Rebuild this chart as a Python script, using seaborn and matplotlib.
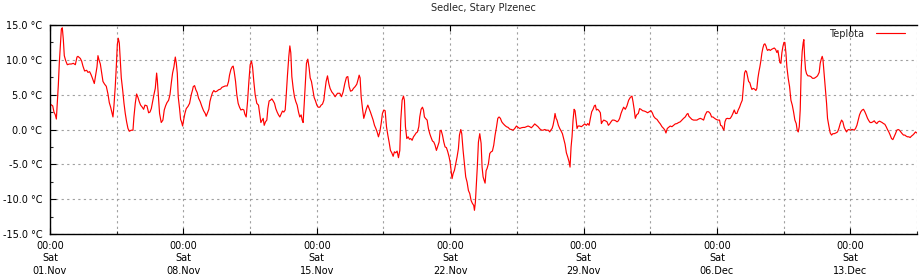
import numpy as np
import pandas as pd
import matplotlib
matplotlib.use("Agg")
import matplotlib.pyplot as plt
import matplotlib.dates as mdates
import seaborn as sns

# ---- data: hours since 01.Nov 00:00 and temperature (°C) ----
hours_w1 = [0.8, 3.4, 5.0, 6.7, 8.0, 9.2, 10.5, 11.7, 13.0, 14.3, 15.5, 16.8, 18.0, 19.7, 21.8, 24.3, 26.9,
            29.4, 31.9, 34.0, 35.2, 38.2, 39.9, 41.5, 43.6, 46.2, 47.8, 49.9, 51.6, 53.3, 55.8, 57.5, 59.2,
            60.4, 61.7, 63.4, 65.0, 66.7, 68.8, 70.9, 73.0, 74.7, 76.4, 78.0, 79.3, 80.6, 82.2, 83.5, 84.8,
            86.0, 87.3, 88.5, 89.8, 91.5, 93.2, 94.8, 96.5, 98.2, 99.9, 102.4, 104.5, 105.7, 107.4, 109.1,
            110.8, 112.4, 114.1, 116.2, 117.9, 119.6, 122.1, 124.2, 125.9, 127.6, 129.2, 130.9, 132.6, 134.3,
            135.1, 136.4, 138.0, 140.1, 142.2, 143.9, 145.6, 147.3, 149.4, 151.1, 152.7, 154.4, 156.1, 157.8,
            159.0, 160.3, 161.5, 163.2, 164.5, 165.7, 167.0, 168.3, 169.9, 171.6, 173.7, 175.8, 177.9, 179.6]
temp_w1 = [3.6, 3.4, 2.5, 2.1, 1.5, 3.75, 6.4, 9.5, 11.9, 14.4, 14.6, 12.9, 10.6, 9.9, 9.3, 9.4, 9.4,
           9.5, 9.3, 10.4, 10.5, 10.2, 9.8, 9.1, 8.4, 8.5, 8.2, 8.3, 7.9, 7.4, 6.6, 7.8, 9.0,
           10.6, 10.0, 9.4, 8.2, 6.9, 6.5, 6.2, 5.1, 3.85, 3.2, 2.4, 1.8, 3.5, 6.2, 9.0, 12.2,
           13.1, 12.4, 10.0, 7.4, 5.7, 3.75, 2.3, 1.1, 0.15, -0.25, -0.1, -0.1, 1.8, 3.75, 5.1,
           4.6, 4.0, 3.5, 3.2, 2.9, 3.5, 3.4, 2.4, 2.5, 3.0, 4.0, 5.0, 5.9, 8.1,
           7.2, 5.0, 2.3, 1.0, 1.35, 2.8, 3.4, 3.85, 4.2, 5.0, 6.6, 8.1, 9.0, 10.4,
           9.6, 8.1, 4.7, 3.0, 1.45, 1.1, 0.5, 1.35, 2.3, 3.0, 3.3, 3.75, 5.0, 5.7]

hours_w2 = [180.4, 182.1, 183.7, 185.4, 187.1, 189.2, 191.3, 193.4, 195.5, 196.7, 198.4, 200.1, 201.4,
            203.0, 204.7, 206.4, 208.1, 210.2, 212.3, 214.8, 216.5, 218.6, 220.7, 223.2, 224.9, 226.1,
            227.8, 229.5, 230.7, 232.0, 233.7, 235.3, 237.0, 238.7, 240.4, 242.5, 244.2, 245.4, 247.1,
            248.8, 250.5, 252.1, 253.8, 255.1, 256.7, 258.4, 260.5, 262.6, 264.3, 265.6, 267.2, 268.5,
            269.8, 271.4, 273.1, 274.4, 276.0, 277.7, 279.4, 281.1, 282.8, 284.4, 286.1, 287.8, 289.5,
            291.1, 292.8, 294.5, 296.2, 297.4, 299.1, 300.8, 302.1, 303.3, 304.6, 306.3, 307.9, 309.6,
            311.3, 313.0, 314.6, 316.3, 317.6, 318.8, 320.1, 321.8, 323.0, 324.7, 326.4, 327.7, 329.3,
            331.0, 332.7, 334.4, 336.1, 337.7, 339.8, 341.5, 343.2, 344.9, 346.1, 347.8, 349.5, 351.2,
            352.8, 354.9, 357.0, 359.1]
temp_w2 = [6.15, 6.3, 5.7, 5.3, 4.5, 4.0, 3.3, 2.7, 2.3, 1.9, 2.4, 2.9, 4.0,
           4.7, 5.3, 5.6, 5.4, 5.5, 5.7, 5.8, 6.05, 6.15, 6.25, 6.25, 6.9, 7.8,
           8.6, 9.0, 9.1, 8.3, 6.9, 5.0, 3.75, 3.2, 2.8, 2.9, 2.8, 2.2, 1.8,
           4.0, 6.9, 9.3, 9.8, 9.0, 6.9, 5.0, 3.75, 3.5, 2.1, 1.0, 1.35, 1.6,
           0.6, 1.1, 1.35, 3.0, 4.1, 4.2, 4.4, 4.1, 3.75, 3.0, 2.5, 2.1, 1.8,
           2.2, 2.65, 2.5, 2.8, 4.7, 7.8, 10.5, 12.0, 11.0, 7.6, 5.9, 4.7, 4.0,
           3.5, 2.5, 1.8, 2.1, 1.35, 1.0, 3.5, 7.1, 9.5, 10.1, 8.8, 7.4, 6.9,
           5.7, 4.6, 4.1, 3.5, 3.2, 3.2, 3.5, 3.65, 4.2, 5.4, 6.9, 7.7, 6.6,
           5.9, 5.4, 5.1, 4.7]

hours_w3 = [362.1, 365.0, 367.1, 369.2, 371.3, 373.4, 375.1, 376.8, 378.5, 380.6, 382.2, 384.3, 386.4,
            388.1, 389.4, 390.6, 391.9, 393.6, 395.2, 396.9, 398.6, 400.3, 402.0, 403.6, 405.3, 407.0,
            408.7, 410.4, 412.0, 413.7, 415.4, 417.1, 418.7, 420.4, 422.1, 423.8, 425.5, 427.1, 428.8,
            430.5, 432.2, 433.8, 435.5, 437.2, 438.9, 440.6, 441.8, 443.5, 445.2, 446.4, 447.7, 449.4,
            451.1, 452.7, 454.4, 456.1, 457.8, 459.4, 461.1, 462.8, 464.5, 465.7, 467.4, 469.1, 470.4,
            471.6, 473.3, 475.0, 476.6, 478.3, 480.0, 481.7, 483.4, 485.0, 486.7, 488.4, 490.1, 491.3,
            492.6, 494.3, 496.0, 497.6, 499.3, 501.0, 502.7, 503.9, 505.2, 506.4, 507.7, 509.4, 511.1,
            512.7, 514.4, 515.7, 517.4, 518.6, 520.3, 522.0, 523.6, 525.3, 527.0, 528.7, 530.4, 532.0,
            533.7, 534.6, 535.8, 537.1, 538.3, 539.6, 541.3]
temp_w3 = [5.2, 5.2, 4.7, 5.4, 6.6, 7.5, 7.6, 6.15, 5.5, 5.6, 5.9, 6.15, 6.5,
           7.2, 7.8, 7.4, 4.7, 3.0, 1.6, 2.3, 3.0, 3.5, 3.0, 2.5, 1.9, 1.35,
           0.6, 0.15, -0.35, -1.05, -0.35, 0.85, 2.3, 2.8, 2.7, 0.4, -0.8, -1.8, -3.0,
           -3.35, -3.85, -3.2, -3.35, -3.1, -4.05, -3.0, 1.35, 4.2, 4.8, 4.2, 0.4, -1.3,
           -1.05, -1.4, -1.3, -1.55, -1.05, -0.8, -0.5, -0.35, 0.4, 1.8, 2.9, 3.2, 2.8,
           1.8, 1.55, 1.35, 0.15, -0.6, -1.15, -1.65, -1.8, -2.25, -3.0, -2.4, -1.8, -0.2,
           -0.1, -0.8, -1.8, -2.5, -2.6, -3.2, -3.95, -4.65, -5.85, -7.05, -6.35, -5.85, -4.9,
           -3.95, -2.75, -0.8, 0.0, -0.6, -3.0, -4.9, -6.8, -7.55, -8.75, -9.2, -10.2, -10.6,
           -10.9, -11.6, -10.4, -7.8, -5.15, -1.8, -0.6]

hours_w4 = [543.0, 544.2, 545.5, 546.8, 548.0, 549.3, 550.5, 552.2, 553.9, 555.6, 557.2, 558.9, 560.6,
            562.3, 564.0, 565.6, 567.3, 569.0, 570.7, 572.8, 574.9, 577.0, 579.1, 581.2, 583.3, 585.4,
            587.5, 589.6, 591.7, 593.8, 595.9, 597.9, 600.0, 602.1, 604.2, 606.3, 608.4, 610.5, 612.6,
            614.7, 616.8, 619.3, 621.0, 623.1, 625.2, 627.7, 629.4, 630.7, 632.4, 633.6, 634.9, 636.1,
            637.4, 638.6, 640.3, 642.0, 643.7, 645.4, 647.0, 648.7, 650.4, 652.1, 653.8, 655.0, 656.3,
            657.5, 658.8, 660.1, 661.3, 662.6, 663.8, 665.1, 667.2, 669.3, 671.4, 673.5, 675.6, 677.3,
            679.0, 680.6, 682.3, 684.0, 685.6, 686.9, 688.2, 689.8, 691.5, 693.2, 694.5, 695.7, 697.4,
            699.5, 701.6, 703.3, 704.9, 706.6, 708.3, 710.4, 712.5, 714.2, 715.9, 717.5, 719.2, 720.9]
temp_w4 = [-2.0, -5.4, -6.8, -7.3, -7.7, -5.9, -5.6, -4.9, -3.45, -3.2, -3.1, -2.25, -0.8,
           0.3, 1.6, 1.8, 1.6, 1.1, 0.85, 0.6, 0.4, 0.3, 0.05, 0.0, -0.1, 0.15,
           0.5, 0.3, 0.15, 0.25, 0.3, 0.3, 0.4, 0.5, 0.4, 0.25, 0.5, 0.8, 0.6,
           0.4, 0.1, -0.1, -0.1, 0.0, -0.1, -0.1, -0.35, -0.1, 0.15, 0.6, 1.35, 2.3,
           1.6, 1.35, 0.6, 0.15, -0.2, -0.6, -1.3, -2.1, -3.35, -3.95, -4.65, -5.4, -2.5,
           -1.05, 1.35, 2.9, 2.7, 1.45, 0.15, 0.5, 0.5, 0.4, 0.6, 0.8, 0.6, 0.85,
           0.6, 1.6, 2.55, 2.9, 3.4, 3.5, 2.8, 2.9, 2.7, 2.4, 0.85, 1.1, 1.35,
           1.25, 1.1, 0.6, 0.8, 1.1, 1.35, 1.35, 1.25, 1.1, 1.25, 1.6, 2.3, 2.8]

hours_w5 = [722.5, 724.6, 726.7, 728.8, 730.9, 733.0, 734.3, 735.9, 737.2, 738.9, 741.0, 742.6, 744.3,
            746.4, 748.5, 750.6, 752.7, 754.8, 756.9, 758.6, 760.3, 762.4, 764.5, 766.6, 768.7, 770.8,
            772.9, 774.5, 775.8, 777.5, 779.1, 781.2, 783.3, 785.4, 787.5, 789.6, 791.7, 793.8, 795.9,
            798.0, 800.1, 802.2, 803.5, 804.7, 806.4, 808.5, 810.6, 812.7, 814.8, 816.9, 819.0, 821.1,
            823.2, 825.3, 827.4, 829.5, 831.6, 833.3, 835.0, 837.1, 839.1, 841.2, 843.3, 844.6, 846.3,
            847.5, 848.8, 850.1, 851.7, 853.4, 855.1, 856.8, 858.5, 860.1, 861.8, 863.5, 865.2, 866.8,
            868.5, 870.2, 871.9, 873.6, 874.8, 876.1, 877.3, 878.6, 879.9, 881.5, 882.8, 884.1, 885.7,
            887.4, 889.1, 890.3, 891.6, 892.9, 894.1, 895.4, 896.6, 897.9, 899.2, 900.4, 901.7, 903.0]
temp_w5 = [3.2, 2.9, 3.4, 4.2, 4.6, 4.8, 4.0, 2.8, 1.6, 2.1, 2.3, 3.0, 2.9,
           2.7, 2.65, 2.55, 2.4, 2.55, 2.7, 2.4, 1.9, 1.6, 1.45, 1.1, 0.8, 0.4,
           0.15, -0.1, -0.5, 0.15, 0.3, 0.5, 0.4, 0.6, 0.8, 0.85, 1.0, 1.1, 1.35,
           1.6, 1.8, 2.2, 2.3, 1.9, 1.7, 1.45, 1.35, 1.35, 1.35, 1.5, 1.6, 1.5,
           1.35, 2.1, 2.55, 2.55, 2.3, 1.8, 1.8, 1.6, 1.45, 1.35, 1.35, 0.6, 0.5,
           0.15, -0.1, 1.1, 1.55, 1.6, 1.55, 1.6, 1.9, 2.3, 2.8, 2.3, 2.3, 2.8,
           3.2, 3.75, 4.2, 6.4, 8.1, 8.45, 8.3, 7.6, 6.9, 6.7, 6.15, 5.75, 5.9,
           5.8, 5.6, 5.9, 7.35, 8.3, 9.0, 9.9, 10.95, 11.7, 12.2, 12.3, 12.0, 11.5]

hours_w6 = [903.8, 905.5, 907.2, 908.8, 910.5, 912.2, 913.9, 915.5, 916.8, 918.1, 919.3, 920.6, 921.8,
            923.1, 924.4, 925.6, 926.9, 928.1, 929.8, 931.5, 933.2, 934.9, 936.5, 938.2, 939.9, 941.1,
            942.4, 943.7, 944.9, 946.2, 947.4, 948.7, 949.5, 950.4, 951.6, 952.9, 954.6, 956.3, 958.3,
            960.4, 962.5, 964.6, 966.7, 968.8, 970.1, 971.4, 972.6, 973.5, 974.3, 975.6, 976.8, 978.1,
            979.3, 981.0, 982.7, 984.4, 986.0, 987.7, 989.8, 991.9, 993.6, 995.3, 997.0, 998.6, 1000.3,
            1002.0, 1003.3, 1004.5, 1006.2, 1007.9, 1009.5, 1011.2, 1012.9, 1014.6, 1016.3, 1017.9,
            1019.6, 1021.3, 1023.0, 1024.6, 1026.3, 1028.0, 1029.7, 1031.4, 1033.0, 1034.7, 1036.4,
            1038.1, 1039.7, 1041.4, 1043.1, 1044.8, 1046.5, 1048.1, 1049.8, 1051.5, 1053.2, 1054.8,
            1056.5, 1058.2, 1059.9, 1061.6, 1063.2, 1064.9, 1066.6, 1068.3, 1069.9, 1071.6, 1073.3,
            1075.0, 1076.7, 1078.3, 1080.0, 1081.7, 1083.4, 1085.0, 1086.7, 1088.4, 1090.1, 1091.8]
temp_w6 = [11.35, 11.5, 11.35, 11.5, 11.6, 11.7, 11.5, 11.05, 11.35, 10.4, 9.6, 9.5, 11.0,
           11.9, 12.5, 12.5, 11.0, 9.0, 7.35, 6.15, 4.2, 3.5, 2.55, 1.35, 0.85, -0.1,
           -0.35, 0.4, 2.8, 8.8, 11.2, 12.5, 12.9, 10.5, 8.6, 8.0, 7.7, 7.7, 7.6,
           7.35, 7.35, 7.5, 7.7, 8.2, 9.5, 10.1, 10.5, 10.1, 9.0, 7.1, 5.4, 3.75,
           1.6, 0.5, -0.5, -0.8, -0.6, -0.6, -0.5, -0.35, 0.15, 0.85, 1.35, 1.1, 0.3,
           -0.1, -0.35, -0.1, 0.0, -0.1, 0.0, 0.0, -0.1, 0.15, 0.6, 1.35,
           2.1, 2.55, 2.8, 2.9, 2.55, 2.1, 1.6, 1.25, 1.0, 1.0, 1.1,
           1.25, 1.0, 0.85, 1.1, 1.2, 1.1, 1.0, 0.85, 0.75, 0.4, 0.0,
           -0.35, -0.8, -1.3, -1.45, -1.05, -0.6, -0.1, 0.0, -0.1, -0.35, -0.6,
           -0.8, -0.8, -0.95, -1.05, -1.05, -1.15, -0.95, -0.8, -0.6, -0.35, -0.5]

title = "Sedlec, Stary Plzenec"
series_name = "Teplota"
start = pd.Timestamp("2025-11-01 00:00")
end = start + pd.Timedelta(days=45.5)
y_ticks = [-15, -10, -5, 0, 5, 10, 15]

hours = hours_w1 + hours_w2 + hours_w3 + hours_w4 + hours_w5 + hours_w6
temps = temp_w1 + temp_w2 + temp_w3 + temp_w4 + temp_w5 + temp_w6
df = pd.DataFrame({"time": start + pd.to_timedelta(hours, unit="h"), "temp": temps})

# ---- figure ----
sns.set_style("white")
plt.rcParams["font.family"] = ["DejaVu Sans"]
plt.rcParams["font.size"] = 7

W, H = 919, 277
fig = plt.figure(figsize=(W / 100, H / 100), dpi=100)
ax = fig.add_axes([50 / W, 1 - 234 / H, (917 - 50) / W, (234 - 25) / H])

sns.lineplot(data=df, x="time", y="temp", ax=ax, color="#ff0000", linewidth=0.85,
             label=series_name, estimator=None, sort=False)

ax.set_xlim(start, end)
ax.set_ylim(-15, 15)
ax.set_xlabel("")
ax.set_ylabel("")

major_x = [start + pd.Timedelta(days=7 * k) for k in range(7)]
minor_x = [start + pd.Timedelta(days=3.5 + 7 * k) for k in range(7)]
ax.set_xticks(major_x)
ax.set_xticks(minor_x, minor=True)
ax.xaxis.set_major_formatter(mdates.DateFormatter("%H:%M\n%a\n%d.%b"))
ax.set_yticks(y_ticks)
ax.set_yticks([-12.5, -7.5, -2.5, 2.5, 7.5, 12.5], minor=True)
ax.set_yticklabels([f"{v:.1f} °C" for v in y_ticks])

for lab in ax.get_xticklabels():
    lab.set_linespacing(1.3)

ax.tick_params(axis="both", which="major", direction="in", length=4.5, width=0.8,
               colors="black", labelsize=7, top=True, bottom=True, left=True, right=False)
ax.tick_params(axis="both", which="minor", direction="in", length=2.5, width=0.8,
               top=False, bottom=True, left=True, right=False)
ax.tick_params(axis="x", which="major", pad=5)
ax.tick_params(axis="y", which="major", pad=5.5)

ax.grid(True, axis="y", which="major", color="#a0a0a0", linestyle=(0, (2, 3)), linewidth=0.8)
ax.grid(True, axis="x", which="both", color="#a0a0a0", linestyle=(0, (2, 3)), linewidth=0.8)

for side in ["left", "bottom", "top"]:
    ax.spines[side].set_visible(True)
    ax.spines[side].set_color("black")
    ax.spines[side].set_linewidth(1.0)
ax.spines["right"].set_visible(False)

ax.set_title(title, fontsize=7, pad=10)

ax.legend(loc="upper right", bbox_to_anchor=(0.9908, 1.0), frameon=False, markerfirst=False,
          fontsize=7, handlelength=3.0, handletextpad=1.2, borderaxespad=0.0)

fig.savefig("out.png", dpi=100)
